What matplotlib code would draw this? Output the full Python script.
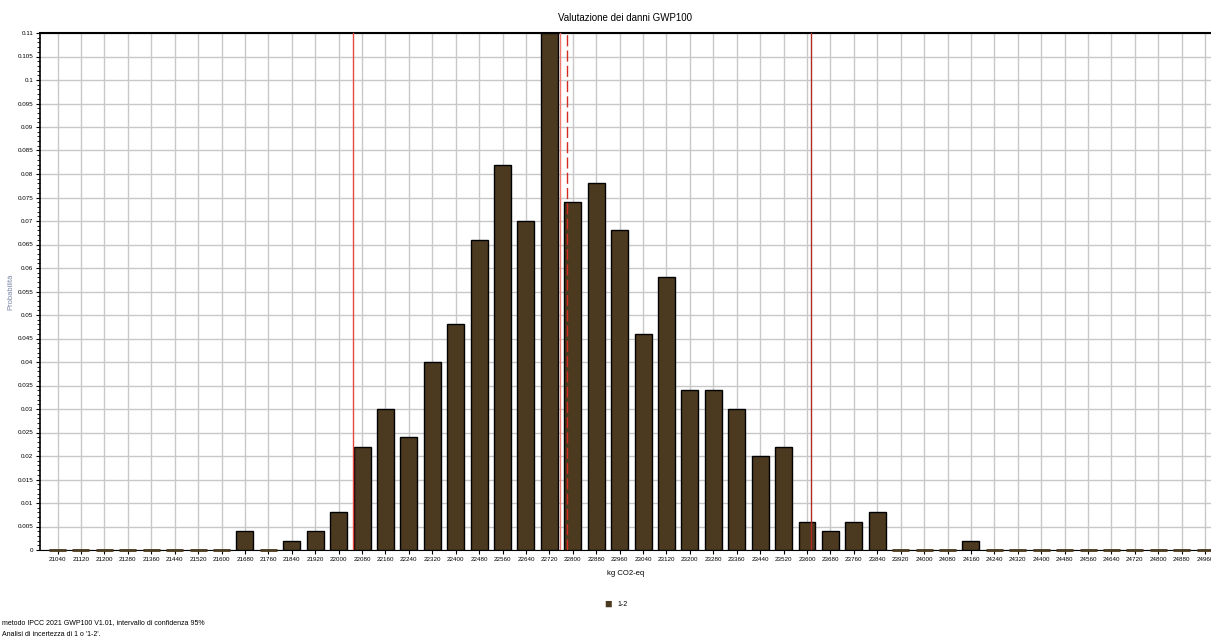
import numpy as np
import matplotlib
matplotlib.use("Agg")
import matplotlib.pyplot as plt
from matplotlib.ticker import MultipleLocator

# classi (kg CO2-eq) e probabilita
classes = list(range(21040, 25040, 80))
probs = [0, 0, 0, 0, 0, 0, 0, 0, 0.004, 0,
         0.002, 0.004, 0.008, 0.022, 0.030, 0.024, 0.040, 0.048, 0.066, 0.082,
         0.070, 0.110, 0.074, 0.078, 0.068, 0.046, 0.058, 0.034, 0.034, 0.030,
         0.020, 0.022, 0.006, 0.004, 0.006, 0.008, 0, 0, 0, 0.002,
         0, 0, 0, 0, 0, 0, 0, 0, 0, 0]
# linee verticali: limiti intervallo, media, mediana
lower_bound = 22049
upper_bound = 23613
mean_value = 22757
median_value = 22780

plt.rcParams['font.family'] = ['Liberation Sans', 'DejaVu Sans']

fig = plt.figure(figsize=(12.11, 6.38), dpi=100)
ax = fig.add_axes([40 / 1211, 1 - 550 / 638, 1 - 40 / 1211, (550 - 33) / 638])

bar_w = 58
ax.bar(classes, probs, width=bar_w, color='#4b3a1f', edgecolor='black',
       linewidth=1.0, zorder=3)
# le classi vuote appaiono come un trattino sull'asse
empty = [c for c, p in zip(classes, probs) if p == 0]
ax.hlines([0] * len(empty), [c - bar_w / 2 for c in empty],
          [c + bar_w / 2 for c in empty], color='#4b3a1f', lw=2.0,
          zorder=3, clip_on=False)

ax.axvline(lower_bound, color='#e8493f', lw=1.0, zorder=4)
ax.axvline(mean_value, color='#f07a70', lw=1.0, zorder=4)
ax.axvline(median_value, color='#d42a20', lw=1.0, ls=(0, (8, 3)), zorder=4)
ax.axvline(upper_bound, color='#b02a20', lw=1.0, zorder=4)

ax.set_xlim(20980, 24980)
ax.set_ylim(0, 0.11)
ax.set_xticks(classes)
ax.set_xticklabels([str(c) for c in classes], fontsize=4.5)
yt = np.arange(0, 0.1101, 0.005)
ax.set_yticks(yt)
ax.set_yticklabels(['0' if v == 0 else ('%.3f' % v).rstrip('0') for v in yt],
                   fontsize=4.5)
ax.yaxis.set_minor_locator(MultipleLocator(0.001))
ax.tick_params(axis='both', length=3, width=0.8, pad=2)
ax.tick_params(axis='y', which='minor', length=2, width=0.6)

ax.grid(True, color='#c8c8c8', lw=1.0, zorder=0)
ax.set_axisbelow(True)
ax.spines['right'].set_visible(False)
ax.spines['top'].set_linewidth(1.5)
ax.spines['left'].set_linewidth(1.2)
ax.spines['bottom'].set_linewidth(0.8)

ax.set_xlabel('kg CO2-eq', fontsize=5.5, labelpad=6)
ax.set_ylabel('Probabilità', fontsize=5.5, color='#7a86a8')
ax.yaxis.set_label_coords(-26 / 1171, 0.5)
fig.text(625 / 1211, 1 - 18 / 638, 'Valutazione dei danni GWP100',
         ha='center', va='center', fontsize=7)

# legenda
fig.text(612 / 1211, 1 - 605 / 638, '\u25A0', ha='right', va='center',
         fontsize=9, color='#4b3a1f')
fig.text(617 / 1211, 1 - 605 / 638, '1-2', ha='left', va='center', fontsize=5)

fig.text(2 / 1211, 1 - 623 / 638,
         'metodo IPCC 2021 GWP100 V1.01, intervallo di confidenza 95%',
         ha='left', va='center', fontsize=5)
fig.text(2 / 1211, 1 - 635 / 638, "Analisi di incertezza di 1 o '1-2'.",
         ha='left', va='center', fontsize=5)

fig.savefig('out.png', dpi=100)
